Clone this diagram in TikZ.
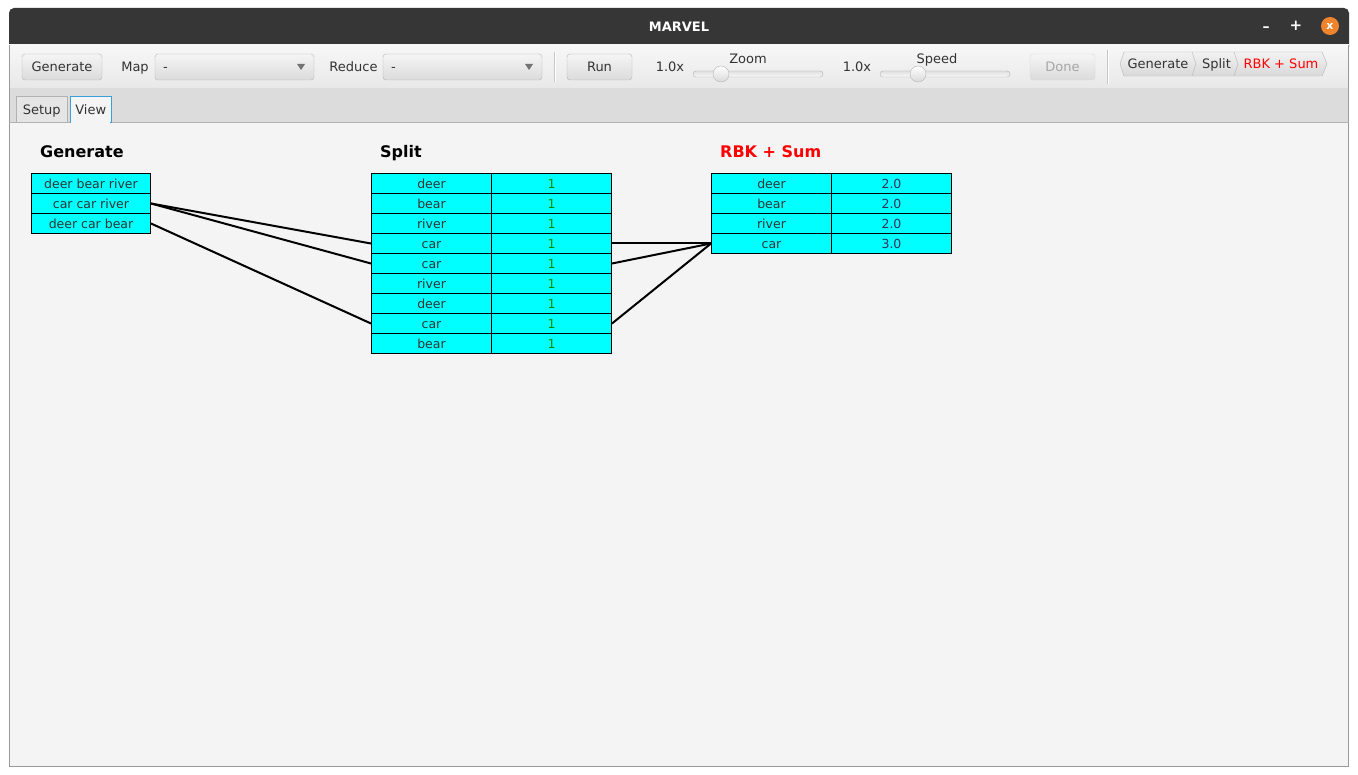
\documentclass[tikz,border=0pt]{standalone}
\usepackage{fontspec}
\setmainfont{DejaVu Sans}
\definecolor{titlebg}{HTML}{363636}
\definecolor{tabbg}{HTML}{DCDCDC}
\definecolor{panebg}{HTML}{F4F4F4}
\definecolor{txt}{HTML}{333333}
\definecolor{onegreen}{RGB}{0,140,0}
\definecolor{numblue}{HTML}{2E3458}
\definecolor{orangex}{HTML}{F0842C}
\definecolor{tabblue}{HTML}{3A9FD8}
\definecolor{btnline}{HTML}{B4B4B4}
\definecolor{cellcyan}{RGB}{0,255,255}
\tikzset{
  btn/.style={draw=btnline, rounded corners=3pt, top color=white!96!black, bottom color=white!86!black,
    minimum height=26pt, inner sep=0pt, text height=10pt, text depth=0pt, font=\fontsize{13}{13}\selectfont, text=txt},
  combo/.style={btn, minimum width=159pt},
  lbl/.style={inner sep=0pt, text height=10pt, text depth=0pt, font=\fontsize{13}{13}\selectfont, text=txt},
  head/.style={inner sep=0pt, anchor=west, text height=11.5pt, text depth=3pt, font=\fontsize{16}{16}\selectfont\bfseries},
  cell/.style={draw=black, line width=1pt, fill=cellcyan, minimum width=120pt, minimum height=20pt,
    inner sep=0pt, text height=10pt, text depth=0pt, anchor=north west, font=\fontsize{12.5}{12.5}\selectfont, text=txt},
  link/.style={line width=2pt, black},
  track/.style={draw=btnline, rounded corners=3pt, top color=white!88!black, bottom color=white!97!black},
  knob/.style={circle, draw=btnline, minimum size=16pt, inner sep=0pt, top color=white, bottom color=white!85!black},
}
\begin{document}
\begin{tikzpicture}[x=1pt,y=-1pt]
% page
\fill[white] (0,0) rectangle (1358,775);
\useasboundingbox (0,0) rectangle (1358,775);
% window title bar
\fill[titlebg, rounded corners=5pt] (9,8) rectangle (1349,52);
\node[inner sep=0pt, text=white, font=\fontsize{13}{13}\selectfont\bfseries] (title) at (679,27) {MARVEL};
\node[inner sep=0pt, text=white, font=\fontsize{14}{14}\selectfont\bfseries] (minb) at (1266,29) {–};
\node[inner sep=0pt, text=white, font=\fontsize{15}{15}\selectfont\bfseries] (maxb) at (1296,26) {+};
\node[circle, fill=orangex, minimum size=18pt, inner sep=0pt, text=white, font=\fontsize{11}{11}\selectfont\bfseries] (closeb) at (1330,26) {x};
% toolbar
\shade[top color=white!97!black, bottom color=white!91!black] (9,45) rectangle (1349,88);
\draw[white!72!black] (9,88) -- (1349,88);
% tab strip
\fill[tabbg] (9,88.5) rectangle (1349,122);
% content pane
\fill[panebg] (9,122) rectangle (1349,766);
\draw[white!60!black, line width=1pt] (9.5,45) -- (9.5,766) -- (1348.5,766) -- (1348.5,45);
\draw[white!70!black] (9,122) -- (1349,122);
% tabs
\node[draw=white!70!black, fill=white!90!black, minimum width=51pt, minimum height=26pt, inner sep=0pt, text height=10pt, text depth=0pt, anchor=north west, font=\fontsize{13}{13}\selectfont, text=txt] (setup) at (16,96) {Setup};
\node[draw=tabblue, fill=panebg, minimum width=41pt, minimum height=26pt, inner sep=0pt, text height=10pt, text depth=0pt, anchor=north west, font=\fontsize{13}{13}\selectfont, text=txt] (view) at (70,96) {View};
\draw[panebg, line width=1.5pt] (view.south west) ++(1,0) -- ([xshift=-1pt]view.south east);
% toolbar controls
\node[btn, minimum width=80pt] (genbtn) at (62,67) {Generate};
\node[lbl] (maplbl) at (135,67) {Map};
\node[combo] (mapcombo) at (234.5,67) {};
\node[lbl, anchor=west] (mapdash) at (163,67) {-};
\fill[white!45!black] (297,64) -- (305,64) -- (301,70) -- cycle;
\node[lbl] (redlbl) at (353.5,67) {Reduce};
\node[combo] (redcombo) at (462.5,67) {};
\node[lbl, anchor=west] (reddash) at (391,67) {-};
\fill[white!45!black] (525,64) -- (533,64) -- (529,70) -- cycle;
\draw[white!78!black] (554,52) -- (554,82);
\draw[white] (555,52) -- (555,82);
\node[btn, minimum width=65pt] (runbtn) at (599.5,67) {Run};
\node[lbl] (zoomval) at (670,67) {1.0x};
\draw[track] (693,71) rectangle (823,77);
\node[knob] (zoomknob) at (721,74) {};
\node[lbl] (zoomlbl) at (748,59) {Zoom};
\node[lbl] (speedval) at (857,67) {1.0x};
\draw[track] (880,71) rectangle (1010,77);
\node[knob] (speedknob) at (918,74) {};
\node[lbl] (speedlbl) at (937,59) {Speed};
\node[btn, draw=white!85!black, minimum width=65pt, text=white!65!black] (donebtn) at (1062.5,67) {Done};
\draw[white!78!black] (1107,50) -- (1107,84);
\draw[white] (1108,50) -- (1108,84);
% breadcrumb
\shade[top color=white!95!black, bottom color=white!85!black]
  (1124,52) -- (1322,52) -- (1327,64) -- (1322,76) -- (1124,76) -- (1120,64) -- cycle;
\draw[btnline] (1124,52) -- (1192,52) -- (1196,64) -- (1192,76) -- (1124,76) -- (1120,64) -- cycle;
\draw[btnline] (1192,52) -- (1234,52) -- (1238,64) -- (1234,76) -- (1192,76);
\draw[btnline] (1234,52) -- (1322,52) -- (1327,64) -- (1322,76) -- (1234,76);
\node[lbl] (bcgen) at (1158,64) {Generate};
\node[lbl] (bcsplit) at (1216.5,64) {Split};
\node[lbl, text=red] (bcrbk) at (1281,64) {RBK + Sum};
% headings
\node[head, text=black] (hgen) at (40,153) {Generate};
\node[head, text=black] (hsplit) at (380,153) {Split};
\node[head, text=red] (hrbk) at (720,153) {RBK + Sum};
% generate table
\node[cell, minimum width=119pt] (g1) at (31,173) {deer bear river};
\node[cell, minimum width=119pt] (g2) at (31,193) {car car river};
\node[cell, minimum width=119pt] (g3) at (31,213) {deer car bear};
% split table
\foreach \w [count=\i] in {deer,bear,river,car,car,river,deer,car,bear}{
  \node[cell] (s\i) at (371,{173+20*(\i-1)}) {\w};
  \node[cell, text=onegreen] (v\i) at (491,{173+20*(\i-1)}) {1};
}
% RBK table
\foreach \w/\n [count=\i] in {deer/2.0,bear/2.0,river/2.0,car/3.0}{
  \node[cell] (r\i) at (711,{173+20*(\i-1)}) {\w};
  \node[cell, text=numblue] (n\i) at (831,{173+20*(\i-1)}) {\n};
}
% links
\draw[link] (g2.east) -- (s4.west);
\draw[link] (g2.east) -- (s5.west);
\draw[link] (g3.east) -- (s8.west);
\draw[link] (v4.east) -- (r4.west);
\draw[link] (v5.east) -- (r4.west);
\draw[link] (v8.east) -- (r4.west);
\end{tikzpicture}
\end{document}
